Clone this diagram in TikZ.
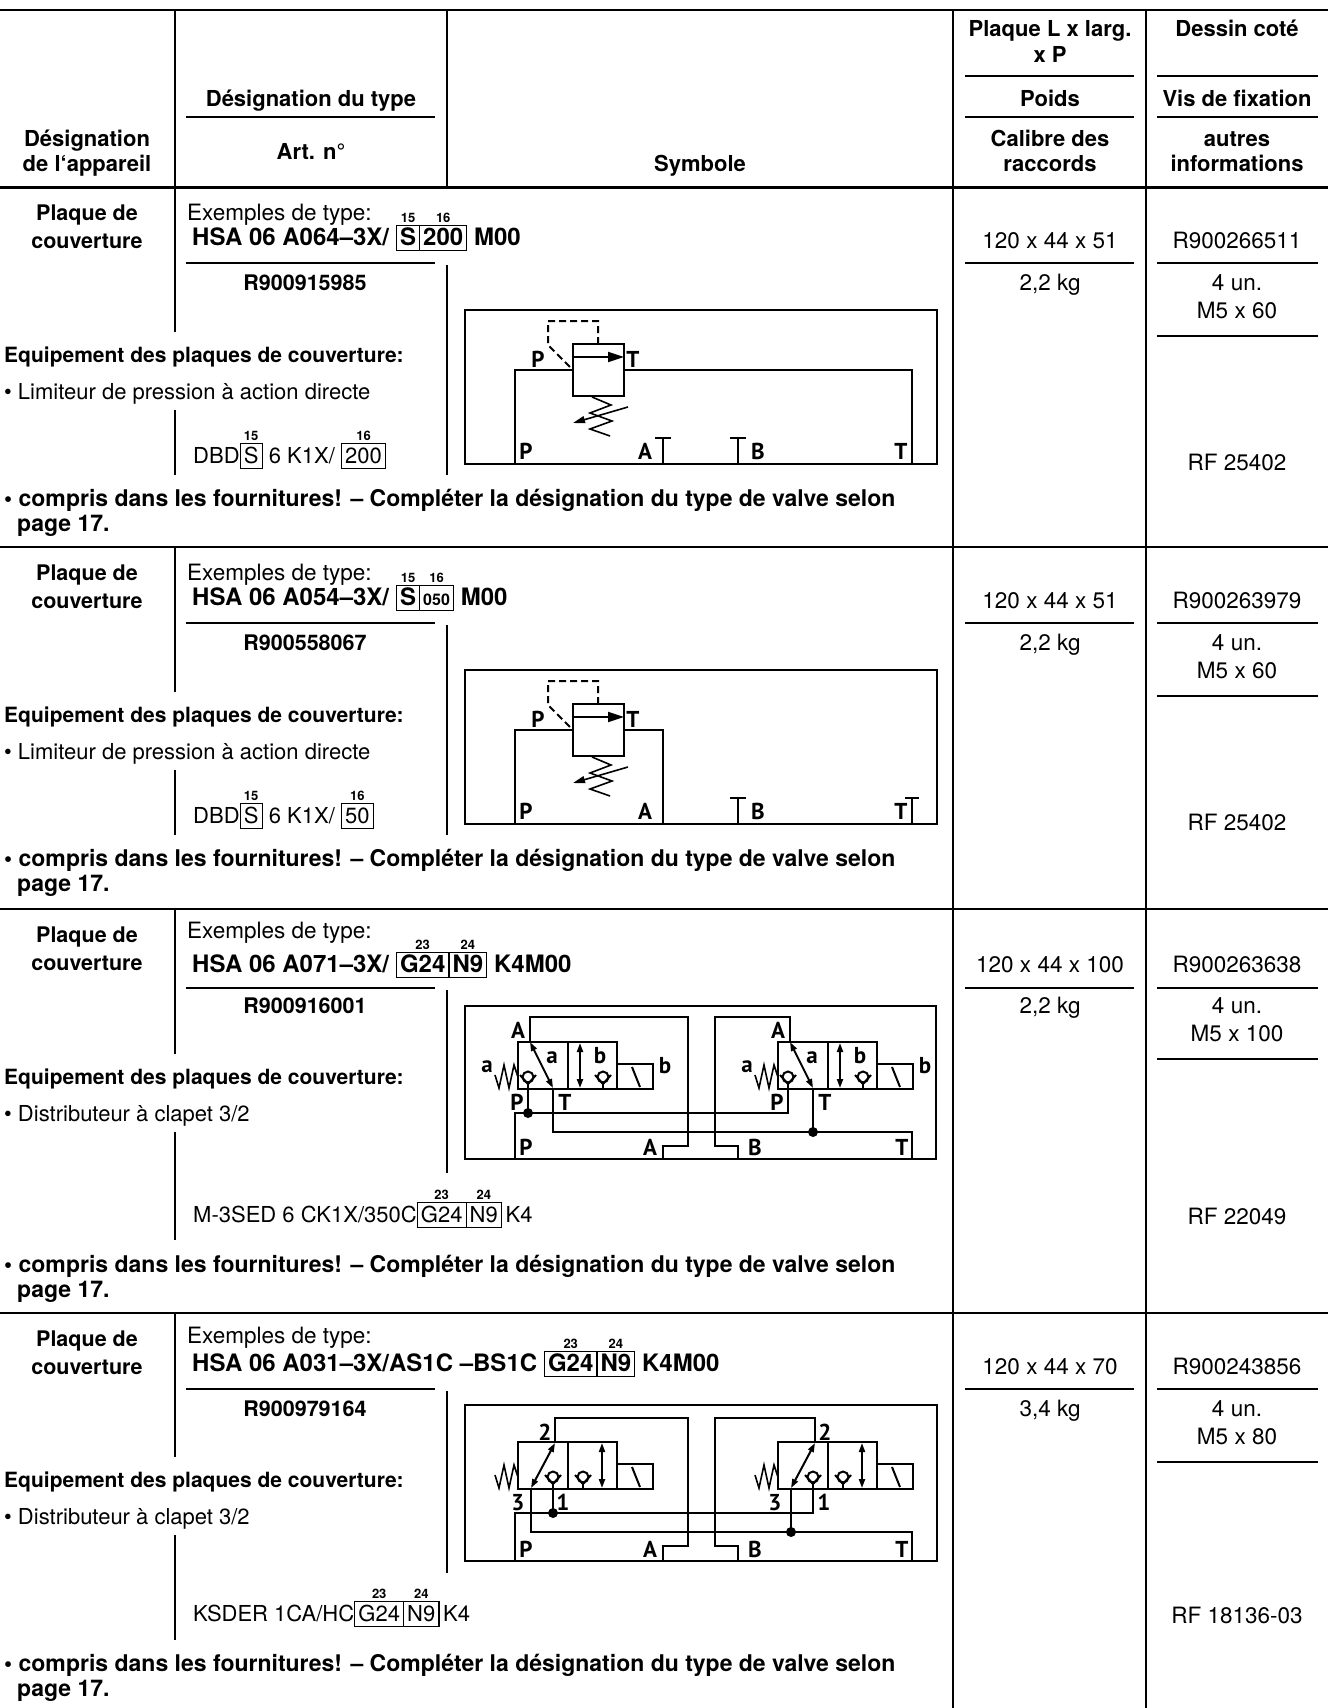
\documentclass[tikz,border=0pt]{standalone}
\usepackage{fontspec}
\setmainfont{TeX Gyre Heros}
\newfontfamily\valvefont{PT Sans}
\usetikzlibrary{arrows.meta}
\newcommand\hdfont{\fontsize{22}{25}\selectfont\bfseries}
\newcommand\btfont{\fontsize{21.5}{25}\selectfont\bfseries}
\newcommand\eqfont{\fontsize{21}{25}\selectfont\bfseries}
\newcommand\cpfont{\fontsize{23}{25}\selectfont\bfseries}
\newcommand\htfont{\fontsize{24}{26}\selectfont\bfseries}
\newcommand\rtfont{\fontsize{22}{25}\selectfont}
\newcommand\rcfont{\fontsize{22.5}{25}\selectfont}
\newcommand\exfont{\fontsize{22.5}{25}\selectfont}
\newcommand\vlfont{\valvefont\bfseries\fontsize{23}{23}\selectfont}
\newcommand\codenum{\fontsize{13}{13}\selectfont\bfseries}
\newsavebox\cdbox
\newcommand\cbox[2]{%
 \sbox\cdbox{\setlength\fboxsep{0pt}\setlength\fboxrule{1.2pt}\fbox{\hspace{3pt}\rule[-5pt]{0pt}{24pt}#1\hspace{3pt}}}%
 \rlap{\raisebox{\dimexpr\ht\cdbox+2.5pt\relax}{\makebox[\wd\cdbox]{\codenum #2}}}\usebox\cdbox}
\newcommand\cjoin{\hspace{-1.2pt}}
\tikzset{
 tl/.style={line width=1.5pt},
 rl/.style={line width=1.3pt},
 hsep/.style={line width=3pt},
 rsep/.style={line width=2.4pt},
 sy/.style={line width=2pt, line join=miter},
 tipr/.style={-{Triangle[length=16pt,width=10pt]}},
 dtip/.style={{Triangle[length=9pt,width=6pt]}-{Triangle[length=9pt,width=6pt]}},
 jdot/.style={circle, fill, inner sep=0pt, minimum size=10pt},
 hd/.style={font=\hdfont, inner sep=0pt, anchor=base},
 bt/.style={font=\btfont, inner sep=0pt},
 eq/.style={font=\eqfont, inner sep=0pt, anchor=base west},
 cp/.style={font=\cpfont, inner sep=0pt, anchor=base west},
 ht/.style={font=\htfont, inner sep=0pt, anchor=base west},
 rt/.style={font=\rtfont, inner sep=0pt},
 rc/.style={font=\rcfont, inner sep=0pt, anchor=base},
 ex/.style={font=\exfont, inner sep=0pt, anchor=base west},
 vl/.style={font=\vlfont, inner sep=0pt, anchor=base},
 reliefcore/.pic={
  \draw[sy] (0,0) rectangle (472,154);
  \draw[sy] (50,154) -- (50,60) -- (108,60);
  \draw[sy] (108,34) rectangle (159,86);
  \draw[sy,tipr] (108,47) -- (159,47);
  \draw[sy,dashed,dash pattern=on 7pt off 4pt] (133,34) -- (133,11) -- (83,11) -- (83,35) -- (107,59);
  \draw[line width=1.6pt] (127,87) -- (146,95) -- (125,103) -- (147,111) -- (125,119) -- (145,126);
  \draw[line width=1.6pt,-{Triangle[length=12pt,width=7pt]}] (163,97) -- (108,113);
  \node[vl] (-pp) at (73,57) {P};
  \node[vl] (-pt) at (168,57) {T};
  \node[vl] (-bp) at (61,149) {P};
  \node[vl] (-ba) at (180,149) {A};
  \node[vl] (-bb) at (293,149) {B};
  \node[vl] (-bt) at (436,149) {T};
  \draw[sy] (273,154) -- (273,128) (265,128) -- (281,128);
 },
 valvebody/.pic={
  \draw[sy] (0,0) rectangle (50,47) (50,0) rectangle (99,47);
  \draw[sy] (99,22) rectangle (135,47);
  \draw[sy] (114,25) -- (122,45);
  \draw[line width=1.6pt] (-23,33) -- (-19,46) -- (-14,23) -- (-9,46) -- (-4,23) -- (0,35);
 },
 chk/.pic={
  \draw[sy] (0,0) circle (5.5);
  \draw[sy] (-8,-2) -- (0,7) -- (8,-2);
  \draw[sy] (0,7) -- (0,12);
 },
}
\begin{document}
\begin{tikzpicture}[x=1pt,y=-1pt]
\useasboundingbox (0,0) rectangle (1328,1708);
% ---------- header ----------
\draw[line width=2pt] (0,10) -- (1328,10);
\draw[hsep] (0,187) -- (1328,187);
\draw[tl] (175,10) -- (175,187) (447,10) -- (447,187);
\draw[tl] (953,10) -- (953,1708) (1146,10) -- (1146,1708);
\node[hd] (h1a) at (87,146) {Désignation};
\node[hd] (h1b) at (87,171) {de l‘appareil};
\node[hd] (h2a) at (311,106) {Désignation du type};
\draw[rl] (186,117) -- (435,117);
\node[hd] (h2b) at (311,159) {Art. n°};
\node[hd] (h3) at (700,171) {Symbole};
\node[hd] (h4a) at (1050,36) {Plaque L x larg.};
\node[hd] (h4b) at (1050,62) {x P};
\draw[rl] (965,76) -- (1134,76);
\node[hd] (h4c) at (1050,106) {Poids};
\draw[rl] (965,117) -- (1134,117);
\node[hd] (h4d) at (1050,146) {Calibre des};
\node[hd] (h4e) at (1050,171) {raccords};
\node[hd] (h5a) at (1237,36) {Dessin coté};
\draw[rl] (1157,76) -- (1318,76);
\node[hd] (h5b) at (1237,106) {Vis de fixation};
\draw[rl] (1157,117) -- (1318,117);
\node[hd] (h5c) at (1237,146) {autres};
\node[hd] (h5d) at (1237,171) {informations};
% ---------- row separators ----------
\draw[rsep] (0,547) -- (1328,547) (0,909) -- (1328,909) (0,1313) -- (1328,1313);
% ---------- row 1 ----------
\node[bt,anchor=base] (r1a) at (87,220) {Plaque de};
\node[bt,anchor=base] (r1b) at (87,248) {couverture};
\node[ex] (r1c) at (187,220) {Exemples de type:};
\node[ht] (r1d) at (192,245) {HSA 06 A064–3X/ \cbox{S}{15}\cjoin\cbox{200}{16} M00};
\draw[rl] (186,263) -- (435,263);
\node[bt,anchor=base] (r1e) at (305,290) {R900915985};
\node[rc] (r1f) at (1050,248) {120 x 44 x 51};
\draw[rl] (965,263) -- (1134,263);
\node[rc] (r1g) at (1050,290) {2,2 kg};
\node[rc] (r1h) at (1237,248) {R900266511};
\draw[rl] (1157,263) -- (1318,263);
\node[rc] (r1i) at (1237,290) {4 un.};
\node[rc] (r1j) at (1237,318) {M5 x 60};
\draw[rl] (1157,336) -- (1318,336);
\draw[tl] (447,265) -- (447,475) (175,187) -- (175,332) (175,410) -- (175,475);
\node[eq] (r1k) at (4,362) {Equipement des plaques de couverture:};
\node[rt,anchor=base west] (r1l) at (4,399) {• Limiteur de pression à action directe};
\node[rt,anchor=base west] (r1m) at (193,463) {DBD\cbox{S}{15} 6 K1X/ \cbox{200}{16}};
\node[rc] (r1n) at (1237,470) {RF 25402};
\node[cp] (r1o) at (4,506) {• compris dans les fournitures! – Compléter la désignation du type de valve selon};
\node[cp] (r1p) at (17,531) {page 17.};
\pic (s1) at (465,310) {reliefcore};
\draw[sy] (624,370) -- (912,370) -- (912,464);
\draw[sy] (663,464) -- (663,438) (655,438) -- (671,438);
% ---------- row 2 ----------
\node[bt,anchor=base] (r2a) at (87,580) {Plaque de};
\node[bt,anchor=base] (r2b) at (87,608) {couverture};
\node[ex] (r2c) at (187,580) {Exemples de type:};
\node[ht] (r2d) at (192,605) {HSA 06 A054–3X/ \cbox{S}{15}\cjoin\cbox{\fontsize{16}{16}\selectfont 050}{16} M00};
\draw[rl] (186,623) -- (435,623);
\node[bt,anchor=base] (r2e) at (305,650) {R900558067};
\node[rc] (r2f) at (1050,608) {120 x 44 x 51};
\draw[rl] (965,623) -- (1134,623);
\node[rc] (r2g) at (1050,650) {2,2 kg};
\node[rc] (r2h) at (1237,608) {R900263979};
\draw[rl] (1157,623) -- (1318,623);
\node[rc] (r2i) at (1237,650) {4 un.};
\node[rc] (r2j) at (1237,678) {M5 x 60};
\draw[rl] (1157,696) -- (1318,696);
\draw[tl] (447,625) -- (447,835) (175,547) -- (175,692) (175,770) -- (175,835);
\node[eq] (r2k) at (4,722) {Equipement des plaques de couverture:};
\node[rt,anchor=base west] (r2l) at (4,759) {• Limiteur de pression à action directe};
\node[rt,anchor=base west] (r2m) at (193,823) {DBD\cbox{S}{15} 6 K1X/ \cbox{50}{16}};
\node[rc] (r2n) at (1237,830) {RF 25402};
\node[cp] (r2o) at (4,866) {• compris dans les fournitures! – Compléter la désignation du type de valve selon};
\node[cp] (r2p) at (17,891) {page 17.};
\pic (s2) at (465,670) {reliefcore};
\draw[sy] (624,730) -- (663,730) -- (663,824);
\draw[sy] (912,824) -- (912,798) (905,798) -- (919,798);
% ---------- row 3 ----------
\node[bt,anchor=base] (r3a) at (87,942) {Plaque de};
\node[bt,anchor=base] (r3b) at (87,970) {couverture};
\node[ex] (r3c) at (187,938) {Exemples de type:};
\node[ht] (r3d) at (192,972) {HSA 06 A071–3X/ \cbox{G24}{23}\cjoin\cbox{N9}{24} K4M00};
\draw[rl] (186,988) -- (435,988);
\node[bt,anchor=base] (r3e) at (305,1013) {R900916001};
\node[rc] (r3f) at (1050,972) {120 x 44 x 100};
\draw[rl] (965,988) -- (1134,988);
\node[rc] (r3g) at (1050,1013) {2,2 kg};
\node[rc] (r3h) at (1237,972) {R900263638};
\draw[rl] (1157,988) -- (1318,988);
\node[rc] (r3i) at (1237,1013) {4 un.};
\node[rc] (r3j) at (1237,1041) {M5 x 100};
\draw[rl] (1157,1059) -- (1318,1059);
\draw[tl] (447,990) -- (447,1173) (175,909) -- (175,1054) (175,1132) -- (175,1240);
\node[eq] (r3k) at (4,1084) {Equipement des plaques de couverture:};
\node[rt,anchor=base west] (r3l) at (4,1121) {• Distributeur à clapet 3/2};
\node[rt,anchor=base west] (r3m) at (193,1222) {M-3SED 6 CK1X/350C\cbox{G24}{23}\cjoin\cbox{N9}{24}\,K4};
\node[rc] (r3n) at (1237,1224) {RF 22049};
\node[cp] (r3o) at (4,1272) {• compris dans les fournitures! – Compléter la désignation du type de valve selon};
\node[cp] (r3p) at (17,1297) {page 17.};
% symbol row 3
\draw[sy] (465,1006) rectangle (936,1159);
\pic (v3l) at (518,1042) {valvebody};
\pic (v3r) at (778,1042) {valvebody};
\foreach \dx/\nm in {0/l,260/r}{
 \begin{scope}[shift={(\dx,0)}]
  \draw[sy,dtip] (530,1042) -- (553,1088);
  \draw[sy,dtip] (580,1043) -- (580,1088);
  \pic at (528,1077) {chk};
  \pic at (603,1077) {chk};
  \node[vl] (v3\nm a) at (552,1063) {a};
  \node[vl] (v3\nm b) at (600,1063) {b};
  \node[vl] (v3\nm c) at (487,1072) {a};
  \node[vl] (v3\nm d) at (665,1073) {b};
  \node[vl] (v3\nm e) at (518,1038) {A};
  \node[vl] (v3\nm f) at (517,1110) {P};
  \node[vl] (v3\nm g) at (565,1110) {T};
 \end{scope}
}
\draw[sy] (530,1042) -- (530,1017) -- (688,1017) -- (688,1146) -- (663,1146) -- (663,1159);
\draw[sy] (790,1042) -- (790,1017) -- (715,1017) -- (715,1146) -- (738,1146) -- (738,1159);
\draw[sy] (528,1089) -- (528,1113);
\draw[sy] (515,1159) -- (515,1113) -- (788,1113) -- (788,1089);
\draw[sy] (553,1089) -- (553,1132) -- (912,1132) -- (912,1159);
\draw[sy] (813,1089) -- (813,1132);
\node[jdot] (j3a) at (528,1113) {};
\node[jdot] (j3b) at (813,1132) {};
\node[vl] (b3p) at (526,1155) {P};
\node[vl] (b3a) at (650,1155) {A};
\node[vl] (b3b) at (755,1155) {B};
\node[vl] (b3t) at (902,1155) {T};
% ---------- row 4 ----------
\node[bt,anchor=base] (r4a) at (87,1346) {Plaque de};
\node[bt,anchor=base] (r4b) at (87,1374) {couverture};
\node[ex] (r4c) at (187,1343) {Exemples de type:};
\node[ht] (r4d) at (192,1371) {HSA 06 A031–3X/AS1C –BS1C \cbox{G24}{23}\cjoin\cbox{N9}{24} K4M00};
\draw[rl] (186,1389) -- (435,1389);
\node[bt,anchor=base] (r4e) at (305,1416) {R900979164};
\node[rc] (r4f) at (1050,1374) {120 x 44 x 70};
\draw[rl] (965,1389) -- (1134,1389);
\node[rc] (r4g) at (1050,1416) {3,4 kg};
\node[rc] (r4h) at (1237,1374) {R900243856};
\draw[rl] (1157,1389) -- (1318,1389);
\node[rc] (r4i) at (1237,1416) {4 un.};
\node[rc] (r4j) at (1237,1444) {M5 x 80};
\draw[rl] (1157,1462) -- (1318,1462);
\draw[tl] (447,1391) -- (447,1573) (175,1313) -- (175,1457) (175,1535) -- (175,1640);
\node[eq] (r4k) at (4,1487) {Equipement des plaques de couverture:};
\node[rt,anchor=base west] (r4l) at (4,1524) {• Distributeur à clapet 3/2};
\node[rt,anchor=base west] (r4m) at (193,1621) {KSDER 1CA/HC\cbox{G24}{23}\cjoin\cbox{N9}{24}\,K4};
\node[rc] (r4n) at (1237,1623) {RF 18136-03};
\node[cp] (r4o) at (4,1671) {• compris dans les fournitures! – Compléter la désignation du type de valve selon};
\node[cp] (r4p) at (17,1696) {page 17.};
% symbol row 4
\draw[sy] (465,1405) rectangle (937,1561);
\pic (v4l) at (518,1442) {valvebody};
\pic (v4r) at (778,1442) {valvebody};
\foreach \dx in {0,260}{
 \begin{scope}[shift={(\dx,0)}]
  \draw[sy,dtip] (555,1443) -- (531,1488);
  \draw[sy,dtip] (602,1443) -- (602,1488);
  \pic at (553,1477) {chk};
  \pic at (583,1477) {chk};
 \end{scope}
}
\node[vl] (v4l2) at (545,1440) {2};
\node[vl] (v4l3) at (518,1510) {3};
\node[vl] (v4l1) at (563,1510) {1};
\node[vl] (v4r2) at (825,1440) {2};
\node[vl] (v4r3) at (775,1510) {3};
\node[vl] (v4r1) at (824,1510) {1};
\draw[sy] (555,1442) -- (555,1418) -- (688,1418) -- (688,1546) -- (663,1546) -- (663,1561);
\draw[sy] (815,1442) -- (815,1418) -- (715,1418) -- (715,1546) -- (738,1546) -- (738,1561);
\draw[sy] (553,1489) -- (553,1513);
\draw[sy] (515,1561) -- (515,1513) -- (813,1513) -- (813,1489);
\draw[sy] (531,1489) -- (531,1532) -- (912,1532) -- (912,1561);
\draw[sy] (791,1489) -- (791,1532);
\node[jdot] (j4a) at (553,1513) {};
\node[jdot] (j4b) at (791,1532) {};
\node[vl] (b4p) at (526,1557) {P};
\node[vl] (b4a) at (650,1557) {A};
\node[vl] (b4b) at (755,1557) {B};
\node[vl] (b4t) at (902,1557) {T};
\end{tikzpicture}
\end{document}
